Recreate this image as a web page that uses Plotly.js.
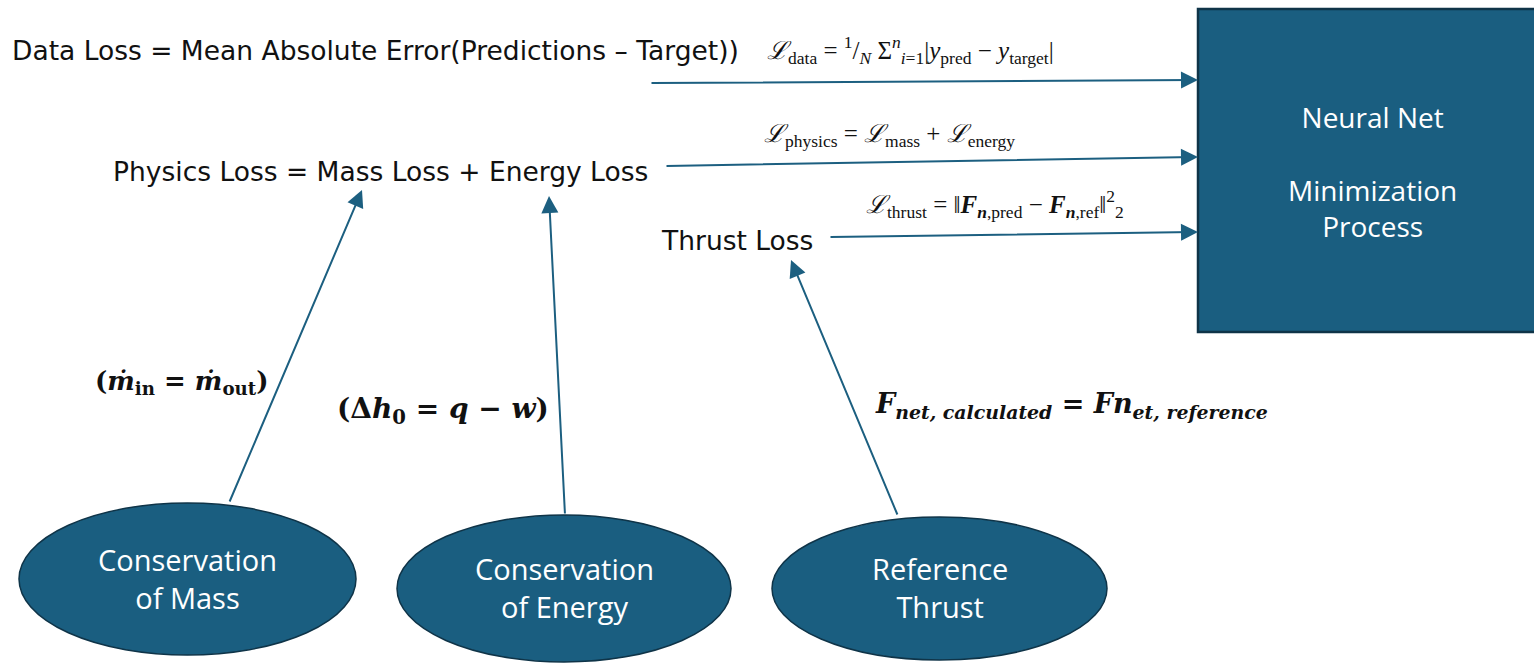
<!DOCTYPE html>
<html>
<head>
<meta charset="utf-8">
<script src="https://cdn.plot.ly/plotly-3.0.1.min.js"></script>
<style>html,body{margin:0;padding:0;background:#fff;}#chart{width:1534px;height:663px;}</style>
</head>
<body>
<div id="chart"></div>
<script>
// ---- content (text) ----
const sourceNodes = ["Conservation<br>of Mass", "Conservation<br>of Energy", "Reference<br>Thrust"];
const sinkNode = "Neural Net<br><br>Minimization<br>Process";
const lossLabels = ["Data Loss = Mean Absolute Error(Predictions – Target))",
                    "Physics Loss = Mass Loss + Energy Loss",
                    "Thrust Loss"];
const lossFormulas = [
  "<i>ℒ</i><sub>data</sub> = <sup>1</sup>/<sub><i>N</i></sub> Σ<sup><i>n</i></sup><sub><i>i</i>=1</sub>|<i>y</i><sub>pred</sub> − <i>y</i><sub>target</sub>|",
  "<i>ℒ</i><sub>physics</sub> = <i>ℒ</i><sub>mass</sub> + <i>ℒ</i><sub>energy</sub>",
  "<i>ℒ</i><sub>thrust</sub> = ‖<b><i>F</i></b><sub><b><i>n</i></b>,pred</sub> − <b><i>F</i></b><sub><b><i>n</i></b>,ref</sub>‖<sup>2</sup><sub>2</sub>"
];
const constraintFormulas = [
  "<b>(<i>ṁ</i><sub>in</sub> = <i>ṁ</i><sub>out</sub>)</b>",
  "<b>(Δ<i>h</i><sub>0</sub> = <i>q</i> − <i>w</i>)</b>",
  "<b><i>F</i><sub><i>net, calculated</i></sub> = <i>Fn</i><sub><i>et, reference</i></sub></b>"
];

// ---- layout geometry (pixel coordinates) ----
const ellipseBoxes = [[19, 503, 356, 655], [397, 515, 731, 662], [772, 517, 1107, 660]];
const sinkBox = [1198, 9, 1545, 332];
const lossLabelPos = [[10, 50], [111, 171], [659, 240]];
const lossLabelFont = [["DejaVu Sans, sans-serif", 26.5], ["DejaVu Sans, sans-serif", 26.5], ["DejaVu Sans, sans-serif", 26.5]];
const formulaPos = [[765, 50], [762, 135], [864, 204]];
const constraintPos = [[93, 382], [335, 410], [873, 405]];
const constraintSize = [26, 28, 27];
const arrowsToSink = [[650, 83, 1198, 80], [665, 166, 1198, 157], [829, 237, 1198, 232]];
const arrowsUp = [[229, 503, 362, 190], [565, 515, 549, 196], [898, 516, 791, 260]];

const FILL = "#1a5e80", EDGE = "#0f3448", LINE = "#1c5f80";

const shapes = [];
ellipseBoxes.forEach(b => shapes.push({type: "circle", xref: "x", yref: "y",
  x0: b[0], y0: b[1], x1: b[2], y1: b[3], fillcolor: FILL, line: {color: EDGE, width: 1.5}, layer: "below"}));
shapes.push({type: "rect", xref: "x", yref: "y", x0: sinkBox[0], y0: sinkBox[1], x1: sinkBox[2], y1: sinkBox[3],
  fillcolor: FILL, line: {color: EDGE, width: 2.5}, layer: "below"});

const ann = [];
sourceNodes.forEach((t, i) => {
  const b = ellipseBoxes[i];
  ann.push({x: (b[0] + b[2]) / 2, y: (b[1] + b[3]) / 2 - 1, xref: "x", yref: "y", text: t, showarrow: false,
    font: {family: "Open Sans, sans-serif", size: 29, color: "#ffffff"}, align: "center"});
});
ann.push({x: (sinkBox[0] + 1534) / 2 + 6, y: 171, xref: "x", yref: "y", text: sinkNode, showarrow: false,
  font: {family: "Open Sans, sans-serif", size: 28, color: "#ffffff"}, align: "center"});
lossLabels.forEach((t, i) => {
  const p = lossLabelPos[i];
  ann.push({x: p[0], y: p[1], xref: "x", yref: "y", text: t, showarrow: false, xanchor: "left",
    font: {family: lossLabelFont[i][0], size: lossLabelFont[i][1], color: "#111111"}});
});
lossFormulas.forEach((t, i) => {
  const p = formulaPos[i];
  ann.push({x: p[0], y: p[1], xref: "x", yref: "y", text: t, showarrow: false, xanchor: "left",
    font: {family: "Liberation Serif, DejaVu Serif, serif", size: 25, color: "#111111"}});
});
constraintFormulas.forEach((t, i) => {
  const p = constraintPos[i];
  ann.push({x: p[0], y: p[1], xref: "x", yref: "y", text: t, showarrow: false, xanchor: "left",
    font: {family: "DejaVu Serif, serif", size: constraintSize[i], color: "#111111"}});
});
arrowsToSink.concat(arrowsUp).forEach(a => {
  ann.push({x: a[2], y: a[3], ax: a[0], ay: a[1], xref: "x", yref: "y", axref: "x", ayref: "y",
    text: "", showarrow: true, arrowhead: 2, arrowsize: 1.7, arrowwidth: 2, arrowcolor: LINE});
});

const layout = {
  width: 1534, height: 663, margin: {l: 0, r: 0, t: 0, b: 0},
  paper_bgcolor: "#ffffff", plot_bgcolor: "#ffffff", showlegend: false,
  xaxis: {range: [0, 1534], visible: false, fixedrange: true},
  yaxis: {range: [663, 0], visible: false, fixedrange: true},
  shapes: shapes, annotations: ann
};
Plotly.newPlot("chart", [{x: [], y: [], type: "scatter"}], layout, {displayModeBar: false, staticPlot: true});
</script>
</body>
</html>
